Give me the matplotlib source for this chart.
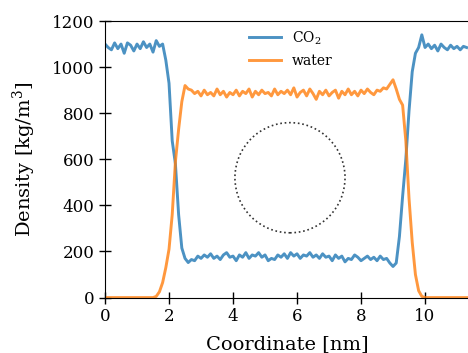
import matplotlib
matplotlib.use("Agg")
import matplotlib.pyplot as plt
import numpy as np
from matplotlib.patches import Ellipse

plt.rcParams['font.family'] = 'DejaVu Serif'
plt.rcParams['mathtext.fontset'] = 'dejavuserif'

# density profiles across the slab, sampled every 0.1 nm
coord = np.round(np.arange(0, 11.35, 0.1), 2)

co2 = [1100, 1085, 1075, 1105, 1080, 1100, 1060, 1105, 1095, 1070,
       1100, 1080, 1110, 1085, 1100, 1065, 1115, 1090, 1100, 1030,
       930, 680, 580, 360, 215, 170, 152, 165, 160, 180,
       170, 185, 175, 190, 170, 180, 165, 185, 195, 175,
       180, 160, 185, 175, 195, 170, 185, 180, 195, 175,
       185, 160, 170, 165, 185, 175, 190, 170, 195, 180,
       190, 170, 185, 180, 195, 175, 185, 170, 190, 175,
       180, 160, 185, 170, 180, 155, 170, 165, 185, 175,
       160, 170, 180, 165, 175, 160, 180, 165, 170, 150,
       135, 150, 265, 440, 600, 810, 980, 1060, 1085, 1140,
       1085, 1100, 1080, 1095, 1070, 1100, 1085, 1075, 1095, 1080,
       1090, 1075, 1090, 1085]

water = [0, 0, 0, 0, 0, 0, 0, 0, 0, 0,
         0, 0, 0, 0, 0, 0, 5, 25, 65, 130,
         210, 360, 590, 730, 850, 920, 905, 900, 885, 895,
         875, 900, 880, 890, 875, 905, 880, 895, 870, 890,
         880, 900, 875, 895, 885, 905, 870, 895, 880, 900,
         885, 890, 875, 905, 880, 895, 885, 900, 880, 910,
         870, 890, 900, 875, 905, 885, 860, 895, 880, 900,
         875, 890, 900, 865, 895, 880, 905, 880, 895, 875,
         900, 885, 905, 890, 880, 900, 895, 910, 905, 925,
         945, 905, 860, 835, 680, 430, 240, 100, 30, 5,
         0, 0, 0, 0, 0, 0, 0, 0, 0, 0,
         0, 0, 0, 0]

fig = plt.figure(figsize=(4.68, 3.53), dpi=100)
ax = fig.add_axes([0.2244, 0.157, 0.7795, 0.7835])

ax.plot(coord, co2, color='#1f77b4', alpha=0.8, lw=2.1, label='CO$_2$')
ax.plot(coord, water, color='#ff7f0e', alpha=0.8, lw=2.1, label='water')

# outline of the solute in the middle of the box
ax.add_patch(Ellipse((5.78, 520), 3.44, 478, fill=False, ls=':',
                     lw=1.2, color='#333333'))

ax.set_xlim(0, 11.4)
ax.set_ylim(0, 1200)
ax.set_xticks([0, 2, 4, 6, 8, 10])
ax.set_yticks([0, 200, 400, 600, 800, 1000, 1200])
ax.tick_params(direction='inout', length=8, width=1, labelsize=12)
ax.spines['right'].set_visible(False)
ax.set_xlabel('Coordinate [nm]', fontsize=14, labelpad=7)
ax.set_ylabel('Density [kg/m$^3$]', fontsize=14, labelpad=10)

ax.legend(loc='upper center', bbox_to_anchor=(0.51, 1.015), frameon=False,
          fontsize=10, handlelength=2.3)

fig.savefig('out.png', dpi=100)
